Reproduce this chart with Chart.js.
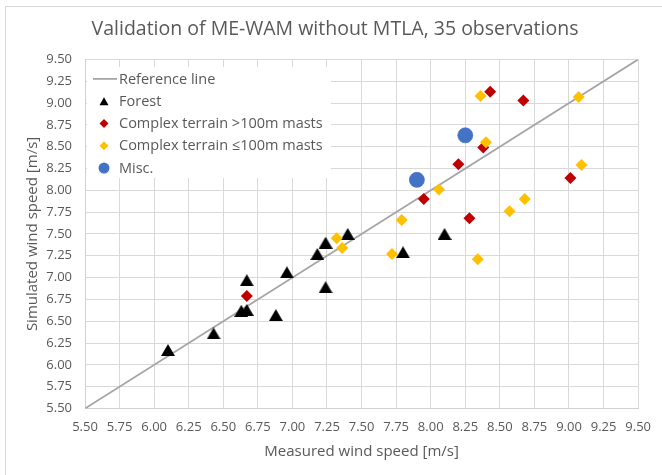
<!DOCTYPE html>
<html>
<head>
<meta charset="utf-8">
<script src="https://cdn.jsdelivr.net/npm/chart.js@4/dist/chart.umd.min.js"></script>
<style>
  html, body { margin: 0; padding: 0; background: #fff; }
  #wrap { position: relative; width: 662px; height: 475px; overflow: hidden; }
  #frame { position: absolute; left: 5px; top: 6px; width: 700px; height: 520px; border: 1px solid #D9D9D9; box-sizing: border-box; }
  canvas { position: absolute; left: 0; top: 0; }
</style>
</head>
<body>
<div id="wrap">
  <div id="frame"></div>
  <canvas id="c" width="662" height="475"></canvas>
</div>
<script>
// ---- data ----
const tickValues = [5.50, 5.75, 6.00, 6.25, 6.50, 6.75, 7.00, 7.25, 7.50, 7.75, 8.00, 8.25, 8.50, 8.75, 9.00, 9.25, 9.50];

const refX = [5.50, 9.50];
const refY = [5.50, 9.50];

const forestX = [6.10, 6.43, 6.63, 6.67, 6.67, 6.88, 6.96, 7.18, 7.24, 7.40, 7.24, 7.80, 8.10];
const forestY = [6.17, 6.36, 6.62, 6.63, 6.97, 6.57, 7.06, 7.27, 7.40, 7.50, 6.89, 7.29, 7.50];

const highX = [6.67, 7.95, 8.20, 8.28, 8.38, 8.43, 8.67, 9.01];
const highY = [6.79, 7.90, 8.30, 7.68, 8.49, 9.13, 9.03, 8.14];

const lowX = [7.32, 7.36, 7.72, 7.79, 8.06, 8.34, 8.36, 8.40, 8.57, 8.68, 9.07, 9.09];
const lowY = [7.45, 7.34, 7.27, 7.66, 8.01, 7.21, 9.08, 8.55, 7.76, 7.90, 9.07, 8.29];

const miscX = [7.90, 8.25];
const miscY = [8.12, 8.63];

const pts = (xs, ys) => xs.map((x, i) => ({ x: x, y: ys[i] }));

// triangle marker centred on its bounding box
function triangleImage(w, h, color) {
  const c = document.createElement('canvas');
  c.width = w; c.height = h;
  const g = c.getContext('2d');
  g.fillStyle = color;
  g.beginPath();
  g.moveTo(w / 2, 0);
  g.lineTo(w, h);
  g.lineTo(0, h);
  g.closePath();
  g.fill();
  return c;
}
const triImg = triangleImage(14, 12, '#000000');

const TEXT = '#595959';
const FONT = '"Open Sans", "DejaVu Sans", sans-serif';

const insideLegend = {
  id: 'insideLegend',
  beforeDatasetsDraw(chart) {
    const ctx = chart.ctx, a = chart.chartArea;
    const bx = a.left + 2, by = a.top + 7.5, bw = 244, bh = 111;
    ctx.save();
    ctx.fillStyle = '#ffffff';
    ctx.fillRect(bx, by, bw, bh);
    ctx.font = '14.5px ' + FONT;
    ctx.textBaseline = 'middle';
    ctx.textAlign = 'left';
    chart.data.datasets.forEach((ds, i) => {
      const y = a.top + 19.5 + i * 22.3;
      const mx = a.left + 19;
      const m = ds.legendMarker;
      if (m === 'line') {
        ctx.strokeStyle = ds.borderColor;
        ctx.lineWidth = 1.75;
        ctx.beginPath();
        ctx.moveTo(a.left + 8, y);
        ctx.lineTo(a.left + 32, y);
        ctx.stroke();
      } else if (m === 'triangle') {
        ctx.fillStyle = '#000';
        ctx.beginPath();
        ctx.moveTo(mx, y - 4);
        ctx.lineTo(mx + 4.5, y + 4);
        ctx.lineTo(mx - 4.5, y + 4);
        ctx.closePath();
        ctx.fill();
      } else if (m === 'diamond') {
        ctx.fillStyle = ds.backgroundColor;
        ctx.beginPath();
        ctx.moveTo(mx, y - 4.5);
        ctx.lineTo(mx + 4.5, y);
        ctx.lineTo(mx, y + 4.5);
        ctx.lineTo(mx - 4.5, y);
        ctx.closePath();
        ctx.fill();
      } else if (m === 'circle') {
        ctx.fillStyle = ds.backgroundColor;
        ctx.beginPath();
        ctx.arc(mx, y, 5.5, 0, Math.PI * 2);
        ctx.fill();
      }
      ctx.fillStyle = TEXT;
      ctx.fillText(ds.label, a.left + 34, y + 0.5);
    });
    ctx.restore();
  }
};

const setTicks = (scale) => { scale.ticks = tickValues.map(v => ({ value: v })); };

new Chart(document.getElementById('c'), {
  type: 'scatter',
  data: {
    datasets: [
      { type: 'line', label: 'Reference line', data: pts(refX, refY), borderColor: '#A5A5A5', borderWidth: 1.75,
        pointRadius: 0, fill: false, order: 5, legendMarker: 'line' },
      { label: 'Forest', data: pts(forestX, forestY), pointStyle: triImg, pointRadius: 7,
        backgroundColor: '#000000', borderColor: '#000000', order: 4, legendMarker: 'triangle' },
      { label: 'Complex terrain >100m masts', data: pts(highX, highY), pointStyle: 'rectRot', pointRadius: 6,
        backgroundColor: '#C00000', borderColor: '#C00000', borderWidth: 0, order: 3, legendMarker: 'diamond' },
      { label: 'Complex terrain \u2264100m masts', data: pts(lowX, lowY), pointStyle: 'rectRot', pointRadius: 6,
        backgroundColor: '#FFC000', borderColor: '#FFC000', borderWidth: 0, order: 2, legendMarker: 'diamond' },
      { label: 'Misc.', data: pts(miscX, miscY), pointStyle: 'circle', pointRadius: 7.5,
        backgroundColor: '#4472C4', borderColor: '#4472C4', borderWidth: 0.75, order: 1, legendMarker: 'circle' }
    ]
  },
  options: {
    responsive: false,
    animation: false,
    events: [],
    layout: { padding: { left: 30, right: 22, top: 8, bottom: 8 } },
    plugins: {
      legend: { display: false },
      tooltip: { enabled: false },
      title: {
        display: true,
        text: 'Validation of ME-WAM without MTLA, 35 observations',
        color: TEXT,
        font: { family: FONT, size: 19.5, weight: 'normal' },
        padding: { top: 10, bottom: 18 }
      }
    },
    scales: {
      x: {
        type: 'linear', min: 5.5, max: 9.5,
        afterBuildTicks: setTicks,
        afterFit: (s) => { s.height = 58.5; },
        grid: { color: '#D9D9D9', lineWidth: 1, drawTicks: false },
        border: { color: '#D0D0D0', width: 1 },
        ticks: { color: TEXT, font: { family: FONT, size: 13 }, padding: 11, maxRotation: 0,
                 callback: (v) => Number(v).toFixed(2) },
        title: { display: true, text: 'Measured wind speed [m/s]', color: TEXT,
                 font: { family: FONT, size: 15 }, padding: { top: 4, bottom: 6 } }
      },
      y: {
        type: 'linear', min: 5.5, max: 9.5,
        afterBuildTicks: setTicks,
        afterFit: (s) => { s.width = 55; },
        grid: { color: '#D9D9D9', lineWidth: 1, drawTicks: false },
        border: { color: '#D0D0D0', width: 1 },
        ticks: { color: TEXT, font: { family: FONT, size: 13 }, padding: 13,
                 callback: (v) => Number(v).toFixed(2) },
        title: { display: true, text: 'Simulated wind speed [m/s]', color: TEXT,
                 font: { family: FONT, size: 15 }, padding: { top: -6, bottom: 0 } }
      }
    }
  },
  plugins: [insideLegend]
});
</script>
</body>
</html>
